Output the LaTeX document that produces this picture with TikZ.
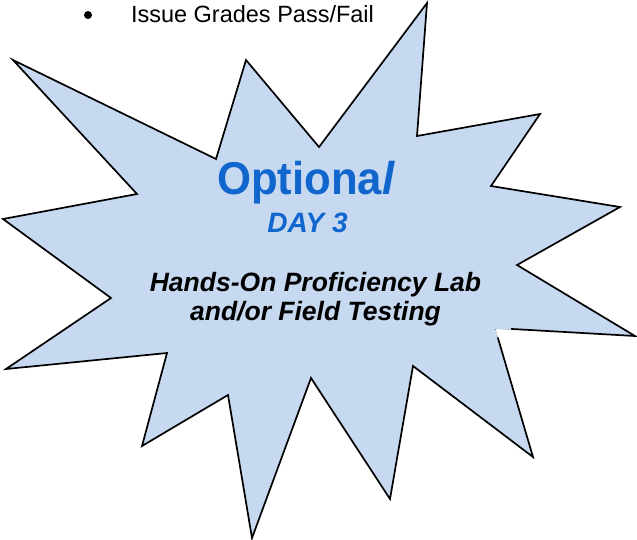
\documentclass[tikz,border=0pt]{standalone}
\usepackage{fontspec}
\setmainfont{Liberation Sans}
\definecolor{starfill}{RGB}{198,217,241}
\definecolor{optblue}{RGB}{16,102,204}
\begin{document}
\begin{tikzpicture}[x=1pt,y=-1pt,
  starline/.style={draw=black,line width=1.7pt,fill=starfill,line join=miter,miter limit=20},
  txt/.style={inner sep=0pt,outer sep=0pt,anchor=base}]
\useasboundingbox (0,0) rectangle (637,539);
\path[starline] (13,60) -- (216,159) -- (246,60) -- (319,147) -- (427,3) -- (417,136)
  -- (540,114) -- (491,186) -- (620,207) -- (517,265) -- (635,336) -- (495,328)
  -- (533,457) -- (413,366) -- (390,499) -- (311,378) -- (252,538) -- (228,395)
  -- (142,446) -- (167,353) -- (6,369) -- (111,298) -- (3,219) -- (137,194) -- cycle;
% small patch at the inner corner, as in the reference
\fill[starfill] (488,326) rectangle (511.3,329.3);
\fill[starfill] (488,329.3) -- (495.6,329.3) -- (497.8,337.3) -- (488,337.3) -- cycle;
\fill[white] (495.6,329.3) -- (511.3,329.3) -- (511.3,337.3) -- (497.8,337.3) -- cycle;
\node[circle,fill=black,inner sep=0pt,minimum size=8pt] (bul) at (88,15) {};
\node[txt,anchor=base west] (issue) at (131,22) {\fontsize{23.5}{28}\selectfont Issue Grades Pass/Fail};
\node[txt,text=optblue,xscale=0.95] (opt) at (306,194) {\fontsize{46}{50}\selectfont\bfseries Optiona\textit{l}};
\node[txt,text=optblue] (day) at (307.5,232) {\fontsize{28}{30}\selectfont\bfseries\itshape DAY 3};
\node[txt] (hands) at (315.5,291) {\fontsize{26.5}{29}\selectfont\bfseries\itshape Hands-On Proficiency Lab};
\node[txt] (field) at (315.5,320) {\fontsize{26.5}{29}\selectfont\bfseries\itshape and/or Field Testing};
\end{tikzpicture}
\end{document}
